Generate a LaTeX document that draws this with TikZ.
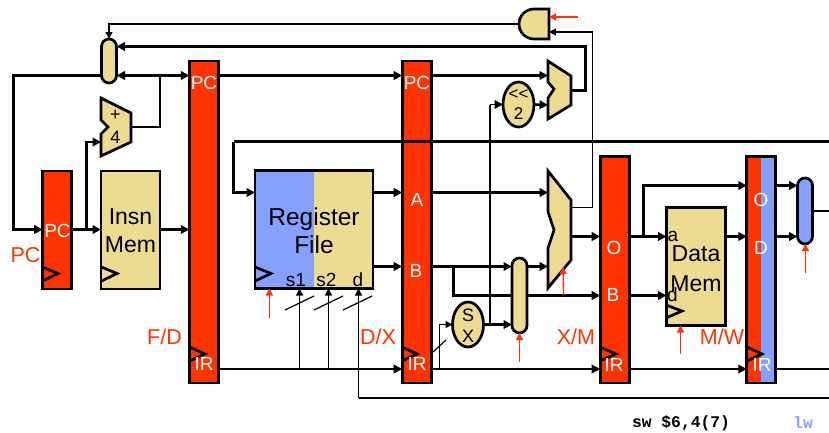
\documentclass[tikz,border=0pt]{standalone}
\usepackage{fontspec}
\setmainfont{Liberation Sans}
\setmonofont{Liberation Mono}
\usetikzlibrary{arrows.meta,shapes.geometric}
\definecolor{pipered}{HTML}{FF3300}
\definecolor{parttan}{HTML}{EDDB91}
\definecolor{partblue}{HTML}{85A1FF}
\tikzset{
  wire/.style={line width=2.4pt},
  wirearrow/.style={wire,-{Triangle[length=8.5pt,width=8.5pt]}},
  mid wire/.style={line width=1.9pt},
  mid arrow/.style={mid wire,-{Triangle[length=8.5pt,width=8.5pt]}},
  thin wire/.style={line width=1.2pt},
  thin arrow/.style={thin wire,-{Triangle[length=7pt,width=7pt]}},
  red arrow/.style={draw=pipered,line width=1.3pt,-{Triangle[length=7pt,width=7pt]}},
  part/.style={draw,line width=2.7pt,fill=parttan,line join=miter},
  bar/.style={draw,line width=2.7pt,fill=pipered,minimum width=29pt,inner sep=0pt,outer sep=0pt},
  box/.style={part,minimum width=59pt,minimum height=118pt,inner sep=0pt,outer sep=0pt},
  mux/.style={part,rounded corners=7.5pt,minimum width=15pt,inner sep=0pt,outer sep=0pt},
  oval/.style={part,ellipse,minimum width=31pt,minimum height=45pt,inner sep=0pt,outer sep=0pt},
  clock/.style={line width=2.7pt,line join=miter},
  white label/.style={text=white,inner sep=0pt,font=\fontsize{19}{19}\selectfont},
  red label/.style={text=pipered,inner sep=0pt,font=\fontsize{21.5}{21.5}\selectfont},
  black label/.style={inner sep=0pt,font=\fontsize{19}{19}\selectfont},
  big label/.style={inner sep=0pt,align=center,font=\fontsize{24.5}{28}\selectfont}
}
\begin{document}
\begin{tikzpicture}[x=1pt,y=-1pt]
  \useasboundingbox (0,0) rectangle (829,432);
  % rows and columns of the wires
  \coordinate (ybr) at (0,46.5);
  \coordinate (ypc) at (0,75.5);
  \coordinate (ybus) at (0,141.5);
  \coordinate (yup) at (0,185.5);
  \coordinate (yA) at (0,192.5);
  \coordinate (yO) at (0,236.5);
  \coordinate (yB) at (0,266.5);
  \coordinate (yMB) at (0,295.5);
  \coordinate (ySX) at (0,324.5);
  \coordinate (yIR) at (0,369);
  \coordinate (ybot) at (0,398);
  \coordinate (yin) at (0,229.5);
  \coordinate (xleft) at (13.5,0);
  \coordinate (xright) at (829,0);
  \coordinate (x87) at (86.5,0);
  \coordinate (xadd) at (160,0);
  \coordinate (xbus) at (233.5,0);
  \coordinate (xs1) at (299.5,0);
  \coordinate (xs2) at (328.5,0);
  \coordinate (xd) at (358.5,0);
  \coordinate (xsx) at (439.5,0);
  \coordinate (xsplit) at (453.5,0);
  \coordinate (xsl) at (490,0);
  \coordinate (xbr) at (585.5,0);
  \coordinate (xand) at (592.5,0);
  \coordinate (xO) at (643.5,0);
  % pipeline latches
  \draw
    (57.2,230) node[bar,minimum height=118pt] (pc){}
    (203.8,222) node[bar,minimum height=322pt] (fd){}
    (416.7,222) node[bar,minimum height=322pt] (dx){}
    (614.7,269.7) node[bar,minimum height=226.7pt] (xm){}
    (761.3,269.7) node[bar,minimum height=226.7pt,path picture={\fill[partblue] (path picture bounding box.north) rectangle (path picture bounding box.south east);}] (mw){};
  % memories
  \draw
    (130.5,230) node[box] (imem){}
    (314,229.5) node[box,minimum width=118pt,path picture={\fill[partblue] (path picture bounding box.north west) rectangle (path picture bounding box.south);}] (rf){}
    (696,266.5) node[box] (dmem){};
  % the wire that runs behind the mux
  \draw[wirearrow] (dx.east |- yB) -- (xsplit |- yB) -- (xsplit |- yMB) -- (xm.west |- yMB);
  \draw
    (519.5,295.5) node[mux,minimum height=75pt] (bmux){}
    (109,61) node[mux,minimum height=44pt] (pcmux){}
    (805,211) node[mux,minimum height=66pt,fill=partblue] (wmux){}
    (468,324.5) node[oval] (sx){}
    (518.5,104.5) node[oval] (shift){};
  % gate and adders
  \draw[part] (549,9) coordinate (andtop) -- (534,9) arc[start angle=270,end angle=90,radius=15] -- (549,39) coordinate (andbot) -- cycle;
  \coordinate (andin) at (549,32);
  \coordinate (andred) at (549,17);
  \coordinate (andout) at (519,24);
  \draw[part] (101,98) -- (131,113) -- (131,142) -- (101,156) -- (101,134) -- (108,127) -- (101,120) -- cycle;
  \coordinate (addin) at (101,142);
  \coordinate (addout) at (131,127);
  \draw[part] (548,61) -- (571,76) -- (571,105) -- (548,119) -- (548,98) -- (554,89) -- (548,82) -- cycle;
  \coordinate (brA) at (548,75.5);
  \coordinate (brB) at (548,105);
  \coordinate (brout) at (571,90.5);
  \draw[part] (548,171) -- (571,200) -- (571,260) -- (548,288) -- (548,248) -- (554,230) -- (548,212) -- cycle;
  \coordinate (aluA) at (548,192.5);
  \coordinate (aluB) at (548,266.5);
  \coordinate (aluout) at (571,236.5);
  \coordinate (alubr) at (571,207.5);
  \coordinate (aluctl) at (563,267);
  % fetch
  \draw[wirearrow] (pcmux.west |- ypc) -- (xleft |- ypc) -- (xleft |- yin) -- (pc.west |- yin);
  \draw[wirearrow] (pc.east |- yin) -- (imem.west |- yin);
  \draw[wirearrow] (x87 |- yin) -- (x87 |- addin) -- (addin);
  \draw[wirearrow] (imem.east |- yin) -- (fd.west |- yin);
  \draw[mid wire] (addout) -- (xadd |- addout) -- (xadd |- ypc);
  \draw[wirearrow] (xadd |- ypc) -- (pcmux.east |- ypc);
  \draw[wirearrow] (xadd |- ypc) -- (fd.west |- ypc);
  \draw[wirearrow] (fd.east |- ypc) -- (dx.west |- ypc);
  \draw[wirearrow] (dx.east |- ypc) -- (brA);
  % branch
  \draw[thin arrow] (andout) -- (pcmux.north |- andout) -- (pcmux.north);
  \draw[wirearrow] (brout) -- (xbr |- brout) -- (xbr |- ybr) -- (pcmux.east |- ybr);
  \draw[thin arrow] (alubr) -- (xand |- alubr) -- (xand |- andin) -- (andin);
  \draw[mid arrow] (xsl |- shift) -- (shift.west);
  \draw[wirearrow] (shift.east) -- (brB);
  % long bus
  \draw[wire] (xright |- ybus) -- (xbus |- ybus);
  \draw[wirearrow] (xbus |- ybus) -- (xbus |- yA) -- (rf.west |- yA);
  % decode and execute
  \draw[wirearrow] (rf.east |- yA) -- (dx.west |- yA);
  \draw[wirearrow] (rf.east |- yB) -- (dx.west |- yB);
  \draw[wirearrow] (dx.east |- yA) -- (aluA);
  \draw[wirearrow] (xsplit |- yB) -- (bmux.west |- yB);
  \draw[wirearrow] (bmux.east |- yB) -- (aluB);
  \draw[mid wire] (xsl |- ySX) -- (xsl |- shift);
  \draw[wirearrow] (sx.east) -- (bmux.west |- ySX);
  \draw[thin arrow] (xsx |- yIR) -- (xsx |- ySX) -- (sx.west);
  \draw[mid arrow] (fd.east |- yIR) -- (dx.west |- yIR);
  \draw[mid arrow] (dx.east |- yIR) -- (xm.west |- yIR);
  \draw[mid arrow] (xm.east |- yIR) -- (mw.west |- yIR);
  \draw[mid wire] (mw.east |- yIR) -- (xright |- yIR);
  \draw[thin arrow] (xs1 |- yIR) -- (xs1 |- rf.south);
  \draw[thin arrow] (xs2 |- yIR) -- (xs2 |- rf.south);
  \draw[mid wire] (xright |- ybot) -- (xd |- ybot);
  \draw[thin arrow] (xd |- ybot) -- (xd |- rf.south);
  % memory and writeback
  \draw[wirearrow] (aluout) -- (xm.west |- yO);
  \draw[wirearrow] (xm.east |- yO) -- (dmem.west |- yO);
  \draw[wirearrow] (xm.east |- yMB) -- (dmem.west |- yMB);
  \draw[wirearrow] (xO |- yO) -- (xO |- yup) -- (mw.west |- yup);
  \draw[wirearrow] (dmem.east |- yO) -- (mw.west |- yO);
  \draw[wirearrow] (mw.east |- yup) -- (wmux.west |- yup);
  \draw[wirearrow] (mw.east |- yO) -- (wmux.west |- yO);
  \draw[wire] (wmux.east) -- (xright |- wmux.east);
  % bus width ticks
  \draw[thin wire] (285,310) coordinate (t1a) -- (314,296) coordinate (t1b);
  \draw[thin wire] (314,310) coordinate (t2a) -- (343,296) coordinate (t2b);
  \draw[thin wire] (343,310) coordinate (t3a) -- (372,296) coordinate (t3b);
  \draw[thin wire] (432,353) coordinate (t4a) -- (446,340) coordinate (t4b);
  % clocks
  \draw[clock] (42.5,267) -- (58,273.5) -- (42.5,281);
  \draw[clock] (101.5,267) -- (117,273.5) -- (101.5,281);
  \draw[clock] (255,267) -- (271,273.5) -- (255,281);
  \draw[clock] (189.5,347) -- (205,354) -- (189.5,361);
  \draw[clock] (402,347) -- (417,354) -- (402,361);
  \draw[clock] (600,347) -- (616,354) -- (600,361);
  \draw[clock] (747,347) -- (762,354) -- (747,361);
  \draw[clock] (666,305) -- (682,311) -- (666,318);
  % red control arrows
  \coordinate (c1) at (578,17);
  \coordinate (c2) at (269.5,318);
  \coordinate (c3) at (519.5,362);
  \coordinate (c4) at (563.5,295);
  \coordinate (c5) at (680.5,354);
  \coordinate (c6) at (805.5,273);
  \draw[red arrow] (c1) -- (andred);
  \draw[red arrow] (c2) -- (c2 |- rf.south);
  \draw[red arrow] (c3) -- (bmux.south);
  \draw[red arrow] (c4) -- (aluctl);
  \draw[red arrow] (c5) -- (c5 |- dmem.south);
  \draw[red arrow] (c6) -- (c6 |- wmux.south);
  % labels
  \draw
    (57.5,231) node[white label] (pcl){PC}
    (204,82.5) node[white label] (fdpc){PC}
    (417,82.5) node[white label] (dxpc){PC}
    (417,200) node[white label] (dxa){A}
    (416,271) node[white label] (dxb){B}
    (204,364) node[white label] (fdir){IR}
    (417,364) node[white label] (dxir){IR}
    (614,248) node[white label] (xmo){O}
    (613,294.5) node[white label] (xmb){B}
    (614,365) node[white label] (xmir){IR}
    (761,200) node[white label] (mwo){O}
    (761,248) node[white label] (mwd){D}
    (762,365) node[white label] (mwir){IR};
  \draw
    (130.5,231) node[big label,font=\fontsize{23}{28}\selectfont] (imeml){Insn\\Mem}
    (314,231) node[big label] (rfl){Register\\File}
    (696,268.5) node[big label,font=\fontsize{23}{30}\selectfont] (dmeml){Data\\Mem}
    (673,236) node[black label] (dma){a}
    (672.5,295) node[black label] (dmd){d}
    (296,280) node[black label] (rfs1){s1}
    (326.5,280) node[black label] (rfs2){s2}
    (358,280) node[black label] (rfd){d}
    (115.5,126.5) node[black label,align=center,font=\fontsize{18}{23}\selectfont] (addl){+\\4}
    (518.5,105) node[black label,align=center,font=\fontsize{17}{20}\selectfont] (shiftl){<{}<\\2}
    (468,326) node[black label,align=center,font=\fontsize{18}{21}\selectfont] (sxl){S\\X};
  \draw
    (25.5,255) node[red label] (pcr){PC}
    (164.5,337) node[red label] (fdr){F/D}
    (378,337) node[red label] (dxr){D/X}
    (576,337) node[red label] (xmr){X/M}
    (722,337) node[red label] (mwr){M/W};
  \draw
    (681,423) node[inner sep=0pt,font=\fontsize{16.3}{16}\selectfont\ttfamily\bfseries] (swl){sw \$6,4(7)}
    (803,423) node[inner sep=0pt,text=partblue,font=\fontsize{16.3}{16}\selectfont\ttfamily\bfseries] (lwl){lw};
\end{tikzpicture}
\end{document}
